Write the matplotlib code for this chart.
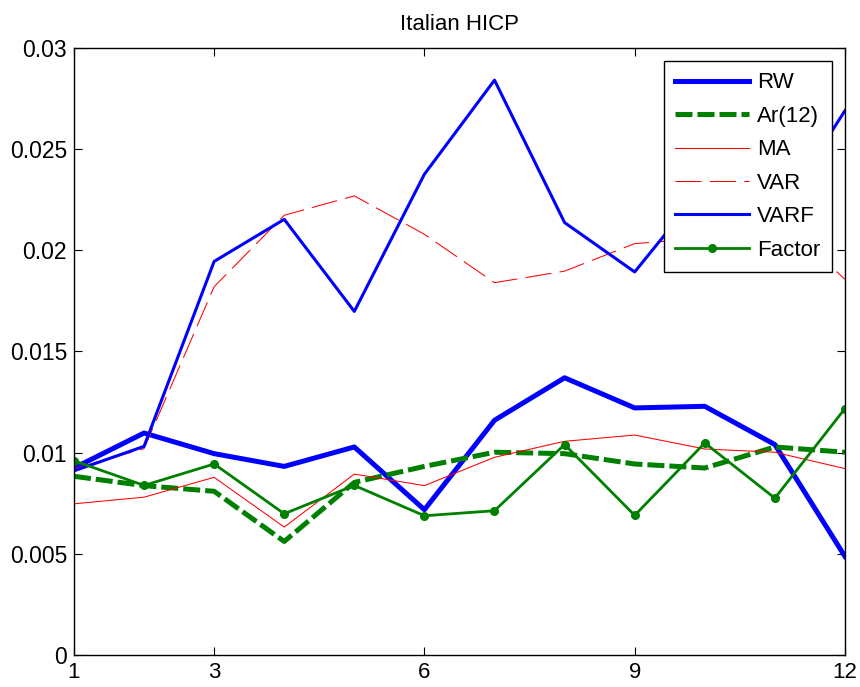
import matplotlib
matplotlib.use('Agg')
import matplotlib.pyplot as plt

plt.rcParams['font.family'] = ['Liberation Sans', 'DejaVu Sans']

horizon = [1, 2, 3, 4, 5, 6, 7, 8, 9, 10, 11, 12]

rw = [0.00924, 0.01097, 0.00995, 0.00932, 0.01028, 0.00718,
      0.0116, 0.0137, 0.01221, 0.01229, 0.0104, 0.00487]
ar12 = [0.00883, 0.00837, 0.00809, 0.00561, 0.00853, 0.00932,
        0.01002, 0.00995, 0.00944, 0.00924, 0.01028, 0.01002]
ma = [0.00747, 0.0078, 0.00878, 0.00632, 0.00894, 0.00837,
      0.00977, 0.01056, 0.01087, 0.01018, 0.01002, 0.00921]
var = [0.0092, 0.0102, 0.0182, 0.02173, 0.02269, 0.02079,
       0.0184, 0.01897, 0.02033, 0.0206, 0.0218, 0.01856]
varf = [0.0091, 0.01031, 0.01945, 0.02153, 0.01698, 0.02376,
        0.02841, 0.02137, 0.01893, 0.0232, 0.0215, 0.0269]
factor = [0.0096, 0.00838, 0.00944, 0.00698, 0.00838, 0.00688,
          0.00713, 0.0104, 0.0069, 0.01048, 0.00775, 0.01218]

xtick_vals = [1, 3, 6, 9, 12]
ytick_vals = [0, 0.005, 0.01, 0.015, 0.02, 0.025, 0.03]
ytick_labels = ['0', '0.005', '0.01', '0.015', '0.02', '0.025', '0.03']

fig = plt.figure(figsize=(8.6, 6.87), dpi=100)
ax = fig.add_axes([0.0860, 0.0466, 0.8965, 0.8836])

blue = (0, 0, 1)
green = (0, 0.5, 0)
red = (1, 0, 0)

ax.plot(horizon, rw, color=blue, lw=3.6, label='RW')
ax.plot(horizon, ar12, color=green, lw=3.6, dashes=(3.4, 1.0), label='Ar(12)')
ax.plot(horizon, ma, color=red, lw=0.75, label='MA')
ax.plot(horizon, var, color=red, lw=0.75, dashes=(25, 8), label='VAR')
ax.plot(horizon, varf, color=blue, lw=2.2, label='VARF')
ax.plot(horizon, factor, color=green, lw=2.0, marker='o', markersize=5.5,
        label='Factor')

ax.set_xlim(1, 12)
ax.set_ylim(0, 0.03)
ax.set_xticks(xtick_vals)
ax.set_xticklabels([str(v) for v in xtick_vals])
ax.set_yticks(ytick_vals)
ax.set_yticklabels(ytick_labels)
ax.tick_params(direction='in', length=6, width=0.8, top=True, right=True,
               labelsize=16.5)
ax.tick_params(axis='x', pad=5, labelsize=16)
ax.tick_params(axis='y', pad=5)
for s in ax.spines.values():
    s.set_linewidth(1.0)

ax.set_title('Italian HICP', fontsize=16, pad=13)

leg = ax.legend(loc='upper right', fontsize=16, handlelength=3.3,
                handletextpad=0.38, labelspacing=0.56, borderpad=0.5,
                borderaxespad=0.6, fancybox=False, framealpha=1,
                edgecolor='black')
leg.get_frame().set_linewidth(1.0)

fig.savefig('out.png', dpi=100)
